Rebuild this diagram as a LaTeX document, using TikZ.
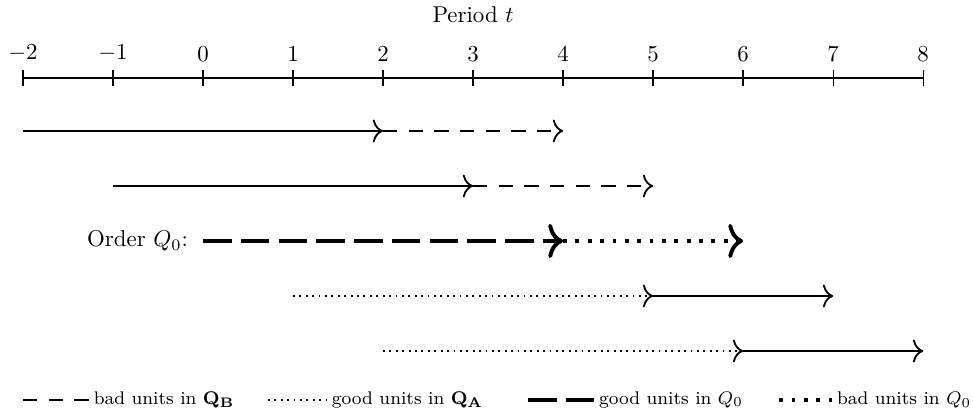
\documentclass[tikz,border=0pt]{standalone}
\usepackage{amsmath}
\usetikzlibrary{arrows.meta,positioning}

\begin{document}
\begin{tikzpicture}[
  x=1.383cm, y=1cm,
  axisline/.style={thick},
  tickmark/.style={semithick},
  arr/.style={thick, -{To[length=4.5pt,width=10pt]}},
  badB/.style={arr, dash pattern=on 6.3pt off 4.9pt},
  goodA/.style={arr, dotted},
  bigarr/.style={line width=1.7pt, -{To[length=6.5pt,width=15pt]}},
  goodQ/.style={bigarr, dash pattern=on 12.5pt off 4pt},
  badQ/.style={bigarr, dash pattern=on 1.7pt off 3.7pt},
  legtext/.style={right, font=\footnotesize, inner sep=1.5pt}
]
\useasboundingbox (-2.255,-5.223) rectangle (8.553,1.198);

\coordinate (axl) at (-2,0);
\coordinate (axr) at (8,0);
\draw[axisline] (axl) -- (axr);
\foreach \t in {-2,...,8}
  \draw[tickmark] (\t,-0.13) -- (\t,0.13) node[above] (l\t) {$\t$};
\node[anchor=base] (period) at (3,0.85) {Period $t$};

\coordinate (a0) at (-2,-0.814);
\coordinate (a1) at (2,-0.814);
\coordinate (a2) at (4,-0.814);
\coordinate (b0) at (-1,-1.659);
\coordinate (b1) at (3,-1.659);
\coordinate (b2) at (5,-1.659);
\coordinate (c0) at (0,-2.504);
\coordinate (c1) at (4,-2.504);
\coordinate (c2) at (6,-2.504);
\coordinate (d0) at (1,-3.349);
\coordinate (d1) at (5,-3.349);
\coordinate (d2) at (7,-3.349);
\coordinate (e0) at (2,-4.194);
\coordinate (e1) at (6,-4.194);
\coordinate (e2) at (8,-4.194);

\draw[arr] (a0) -- (a1);
\draw[badB] (a1) -- (a2);
\draw[arr] (b0) -- (b1);
\draw[badB] (b1) -- (b2);
\node[left=3pt of c0] (order) {Order $Q_0$:};
\draw[goodQ] (c0) -- (c1);
\draw[badQ] (c1) -- (c2);
\draw[goodA] (d0) -- (d1);
\draw[arr] (d1) -- (d2);
\draw[goodA] (e0) -- (e1);
\draw[arr] (e1) -- (e2);

\coordinate (k1s) at (-2,-4.946);
\coordinate (k1e) at (-1.256,-4.946);
\coordinate (k2s) at (0.722,-4.946);
\coordinate (k2e) at (1.389,-4.946);
\coordinate (k3s) at (3.611,-4.946);
\coordinate (k3e) at (4.356,-4.946);
\coordinate (k4s) at (6.4,-4.946);
\coordinate (k4e) at (7.0,-4.946);
\draw[thick, dash pattern=on 6.3pt off 4.9pt] (k1s) -- (k1e);
\node[legtext] (badb) at (k1e) {bad units in $\mathbf{Q_B}$};
\draw[thick, dotted] (k2s) -- (k2e);
\node[legtext] (gooda) at (k2e) {good units in $\mathbf{Q_A}$};
\draw[line width=1.7pt, dash pattern=on 12.5pt off 4pt] (k3s) -- (k3e);
\node[legtext] (goodq) at (k3e) {good units in $Q_0$};
\draw[line width=1.7pt, dash pattern=on 1.7pt off 3.7pt] (k4s) -- (k4e);
\node[legtext] (badq) at (k4e) {bad units in $Q_0$};
\end{tikzpicture}
\end{document}
